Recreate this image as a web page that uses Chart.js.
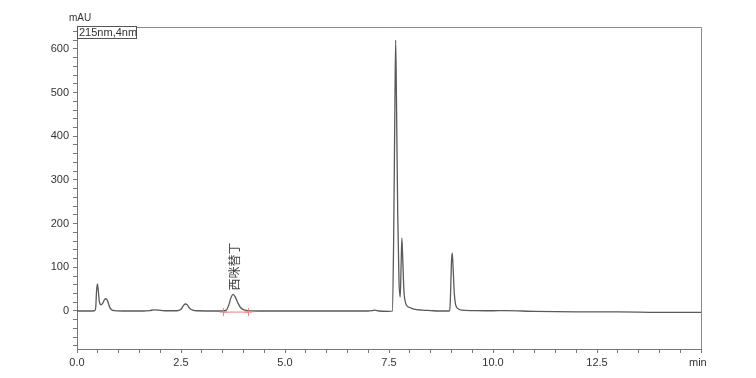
<!DOCTYPE html>
<html><head><meta charset="utf-8">
<script src="https://cdn.jsdelivr.net/npm/chart.js@4/dist/chart.umd.min.js"></script>
<style>html,body{margin:0;padding:0;background:#fff}#wrap{width:756px;height:378px}</style>
</head><body>
<div id="wrap"><canvas id="chrom"></canvas></div>
<script>
// retention time (min) and absorbance (mAU)
const times=[0,0.3,0.42,0.45,0.47,0.49,0.51,0.54,0.58,0.62,0.66,0.70,0.74,0.78,0.83,0.9,1.2,1.6,1.75,1.85,1.95,2.1,2.4,2.5,2.55,2.6,2.65,2.7,2.78,2.9,3.4,3.55,3.6,3.65,3.7,3.75,3.8,3.86,3.93,4.0,4.1,4.5,5,6,7,7.1,7.16,7.25,7.5,7.58,7.61,7.64,7.66,7.68,7.71,7.74,7.77,7.79,7.81,7.83,7.86,7.9,7.95,8.0,8.1,8.3,8.5,8.7,8.9,8.96,8.98,9.0,9.02,9.04,9.07,9.1,9.15,9.25,9.5,10,10.3,11,12,13,14,15];
const mau=[0,0,0.5,8,45,62,48,20,14,18,26,28,22,10,3,1,0,0,1,2.5,2,0.5,0.5,4,11,16,14,7,2,0.5,0,0.5,3,14,30,38,33,20,8,3,1,0,0,0,0,1,2,0,-1,0,150,450,620,480,220,70,32,100,167,120,45,18,10,8,4,2,1,0,0,1,40,110,133,100,40,15,6,2,1,0.5,1,-1,-2,-2,-3,-3];
// integration baseline of the named peak
const baseT=[3.52,4.12];
const baseV=[-2.5,-2.5];
const peakName='西咪替丁', peakT=3.75, peakV=38;
const yMajor=[0,100,200,300,400,500,600];
const xMajor=[0,2.5,5,7.5,10,12.5];

const pts=(xs,ys)=>xs.map((x,i)=>({x,y:ys[i]}));
function range(a,b,s){const r=[];for(let v=a;v<=b+1e-9;v+=s)r.push({value:+v.toFixed(2)});return r;}

const frame={id:'frame',
  afterDraw(c){
    const {ctx,chartArea:a,scales:{x,y}}=c;
    ctx.save();
    ctx.strokeStyle='#8a8a8a';ctx.lineWidth=1;
    ctx.beginPath();ctx.moveTo(a.left,a.top+0.5);ctx.lineTo(a.right+0.5,a.top+0.5);ctx.lineTo(a.right+0.5,a.bottom);ctx.stroke();
    // detector label box
    ctx.fillStyle='#fff';ctx.fillRect(a.left,a.top-1,60,12);
    ctx.strokeStyle='#555';ctx.strokeRect(a.left+0.5,a.top-0.5,59,12);
    ctx.fillStyle='#333';ctx.font='11px "Liberation Sans"';ctx.textBaseline='middle';
    ctx.fillText('215nm,4nm',a.left+2,a.top+5.5);
    ctx.font='10px "Liberation Sans"';
    ctx.fillText('mAU',a.left-8,a.top-9);
    ctx.font='11px "Liberation Sans"';
    ctx.fillText('min',x.getPixelForValue(15)-12,a.bottom+14);
    // peak name, vertical
    ctx.translate(x.getPixelForValue(peakT)+1,y.getPixelForValue(peakV)-4);
    ctx.rotate(-Math.PI/2);
    ctx.font='12px "Noto Sans CJK SC"';ctx.fillStyle='#444';ctx.textBaseline='middle';
    ctx.fillText(peakName,0,0);
    ctx.restore();
  }};

new Chart(document.getElementById('chrom'),{
  type:'line',
  data:{datasets:[
    {data:pts(times,mau),borderColor:'#5a5a5a',borderWidth:1.3,pointRadius:0,cubicInterpolationMode:'monotone',order:1},
    {data:pts(baseT,baseV),borderColor:'#f07a7a',borderWidth:1,pointRadius:4,pointStyle:'cross',pointBorderColor:'#f07a7a',pointBackgroundColor:'#f07a7a',order:0}
  ]},
  options:{
    responsive:true,maintainAspectRatio:false,animation:false,
    layout:{padding:{left:0,right:55,top:27,bottom:0}},
    plugins:{legend:{display:false},tooltip:{enabled:false}},
    scales:{
      x:{type:'linear',min:0,max:15,
        afterBuildTicks:s=>{s.ticks=range(0,15,0.5);},
        afterFit:s=>{s.height=29;},
        grid:{drawOnChartArea:false,tickLength:4,color:'#777'},
        border:{color:'#777'},
        ticks:{autoSkip:false,maxRotation:0,padding:3,color:'#333',font:{family:'Liberation Sans',size:11},
          callback:v=>xMajor.includes(v)?v.toFixed(1):''}},
      y:{min:-87,max:650,
        afterBuildTicks:s=>{s.ticks=range(-80,640,20);},
        afterFit:s=>{s.width=77;},
        grid:{drawOnChartArea:false,tickLength:4,color:'#777'},
        border:{color:'#777'},
        ticks:{autoSkip:false,padding:4,color:'#333',font:{family:'Liberation Sans',size:11},
          callback:v=>yMajor.includes(v)?String(v):''}}
    }
  },
  plugins:[frame]
});
</script>
</body></html>
